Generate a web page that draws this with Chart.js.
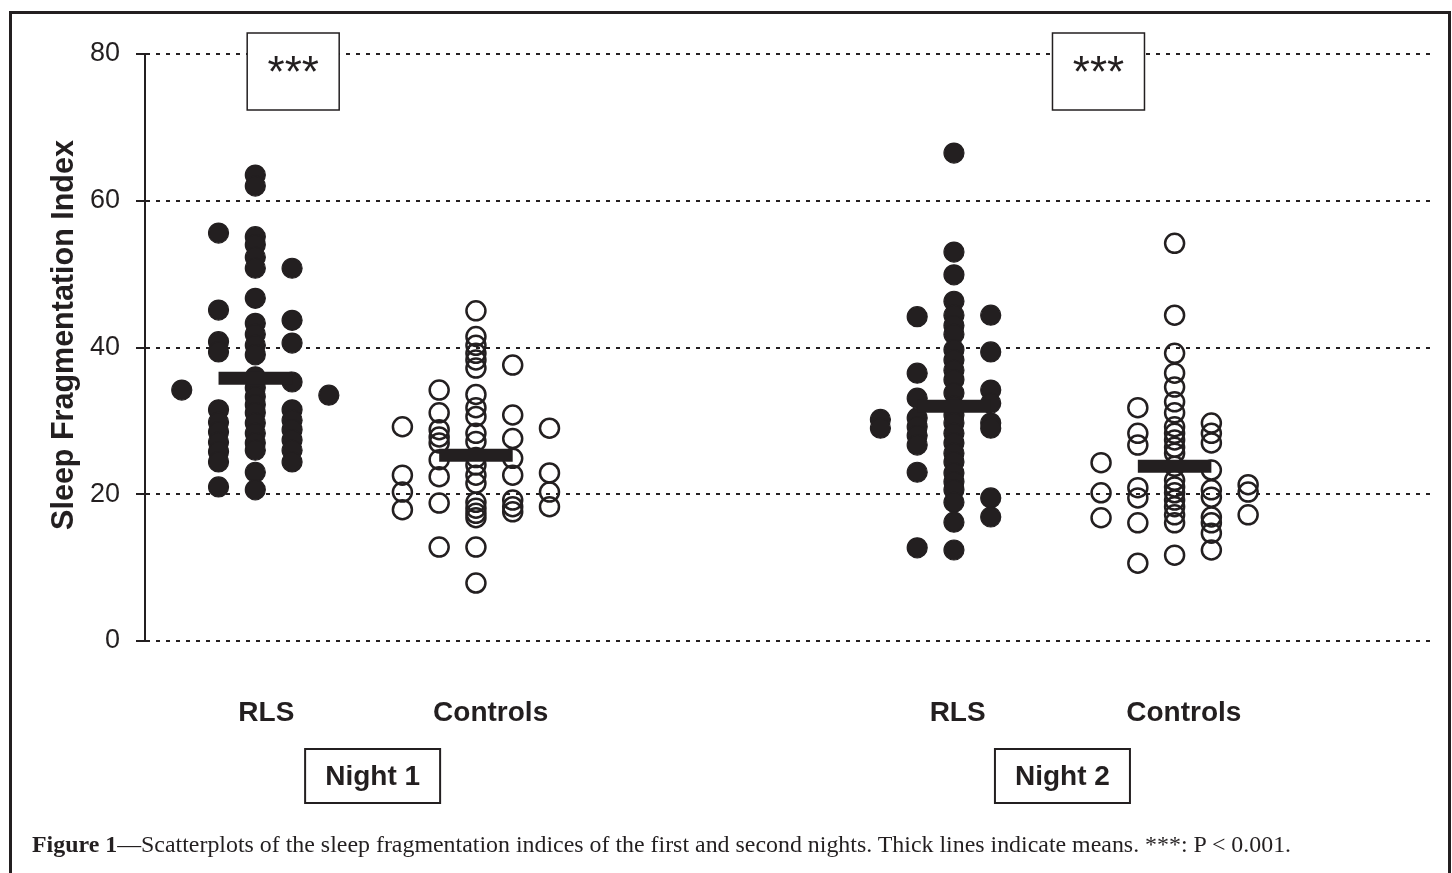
<!DOCTYPE html>
<html><head><meta charset="utf-8">
<script src="https://cdn.jsdelivr.net/npm/chart.js@4.4.1/dist/chart.umd.min.js"></script>
<style>
html,body{margin:0;padding:0;background:#fff;width:1452px;height:873px;overflow:hidden;}
#frame{position:absolute;left:9px;top:11px;width:1442px;height:900px;border:3px solid #231f20;border-bottom:none;box-sizing:border-box;}
#wrap{position:absolute;left:0;top:0;width:1452px;height:873px;}
#caption{position:absolute;left:32px;top:830px;line-height:28px;font-family:"Liberation Serif","Times New Roman",serif;font-size:23.9px;color:#231f20;white-space:nowrap;}
</style></head>
<body>
<div id="frame"></div>
<div id="wrap"><canvas id="c" width="1452" height="873"></canvas></div>
<div id="caption"><b>Figure 1</b>—Scatterplots of the sleep fragmentation indices of the first and second nights. Thick lines indicate means. ***: P &lt; 0.001.</div>
<script>
// ---- data ----
const columnOffsets = [-2, -1, 0, 1, 2];
const groupCenters = [3, 9, 22, 28];
const groupLabels = ['RLS', 'Controls', 'RLS', 'Controls'];
const labelPositions = [3.3, 9.4, 22.1, 28.25];
const yTicks = [0, 20, 40, 60, 80];
const yTitle = 'Sleep Fragmentation Index';

const night1RLS = [
  [34.2],
  [55.6, 45.1, 40.8, 39.4, 31.5, 29.8, 28.5, 27.1, 25.8, 24.4, 21.0],
  [63.5, 62.0, 55.1, 54.0, 52.3, 50.8, 46.7, 43.3, 41.8, 40.3, 39.0, 36.0, 34.5, 33.3, 32.2, 31.1, 29.7, 28.3, 27.0, 26.0, 23.0, 20.6],
  [50.8, 43.7, 40.6, 35.3, 31.5, 30.1, 28.8, 27.4, 26.0, 24.4],
  [33.5]
];
const night1Controls = [
  [29.2, 22.6, 20.3, 17.9],
  [34.2, 31.1, 28.8, 27.8, 27.0, 24.7, 22.4, 18.8, 12.8],
  [45.0, 41.5, 40.3, 39.2, 38.3, 37.2, 33.6, 31.8, 30.6, 28.3, 27.2, 25.0, 24.0, 22.6, 21.5, 18.9, 18.1, 17.4, 16.8, 12.8, 7.9],
  [37.6, 30.8, 27.6, 24.9, 22.6, 19.2, 18.3, 17.6],
  [29.0, 22.9, 20.3, 18.3]
];
const night2RLS = [
  [30.2, 29.0],
  [44.2, 36.5, 33.1, 30.4, 29.2, 28.0, 26.7, 23.0, 12.7],
  [66.5, 53.0, 49.9, 46.3, 44.4, 43.0, 41.8, 39.7, 38.3, 36.9, 35.6, 33.8, 32.0, 30.8, 29.7, 28.3, 27.0, 25.6, 24.4, 22.9, 21.7, 20.6, 18.9, 16.2, 12.4],
  [44.4, 39.4, 34.2, 32.4, 29.7, 29.0, 19.5, 16.9],
  []
];
const night2Controls = [
  [24.3, 20.2, 16.8],
  [31.8, 28.3, 26.7, 20.9, 19.5, 16.1, 10.6],
  [54.2, 44.4, 39.2, 36.5, 34.6, 32.6, 31.1, 29.2, 28.3, 27.4, 26.4, 25.6, 23.8, 21.9, 21.0, 20.2, 19.2, 18.3, 17.2, 16.1, 11.7],
  [29.7, 28.3, 27.0, 23.3, 20.6, 19.6, 16.9, 16.1, 14.7, 12.4],
  [21.3, 20.3, 17.2]
];
const groupMeans = [35.8, 25.3, 32.0, 23.8];
const starBoxPositions = [4.03, 25.93];
const nightBoxPositions = [6.19, 24.95];
const nightLabels = ['Night 1', 'Night 2'];

// ---- build ----
const ink = '#231f20';
const sans = '"Liberation Sans", Arial, sans-serif';
function toPoints(cols, center) {
  const pts = [];
  cols.forEach((vals, i) => vals.forEach(v => pts.push({x: center + columnOffsets[i], y: v})));
  return pts;
}
function filled(cols, center) {
  return {type: 'scatter', data: toPoints(cols, center), pointRadius: 10, pointStyle: 'circle',
    backgroundColor: ink, borderColor: ink, borderWidth: 1.2, showLine: false, order: 2};
}
function hollow(cols, center) {
  return {type: 'scatter', data: toPoints(cols, center), pointRadius: 9.5, pointStyle: 'circle',
    backgroundColor: 'rgba(0,0,0,0)', borderColor: ink, borderWidth: 2.5, showLine: false, order: 2};
}
function meanLine(i) {
  const c = groupCenters[i];
  return {type: 'line', data: [{x: c - 1, y: groupMeans[i]}, {x: c + 1, y: groupMeans[i]}],
    borderColor: ink, borderWidth: 13, borderCapStyle: 'butt', pointRadius: 0, showLine: true, order: 1};
}

const annot = {
  id: 'annot',
  afterDraw(chart) {
    const {ctx, chartArea, scales: {x, y}} = chart;
    ctx.save();
    // y-axis title
    ctx.save();
    ctx.translate(65, 335);
    ctx.rotate(-Math.PI / 2);
    ctx.fillStyle = ink;
    ctx.font = 'bold 30.5px ' + sans;
    ctx.textAlign = 'center'; ctx.textBaseline = 'middle';
    ctx.fillText(yTitle, 0, 0);
    ctx.restore();
    // *** boxes
    starBoxPositions.forEach(p => {
      const cx = x.getPixelForValue(p);
      const top = chartArea.top - 21, bottom = chartArea.top + 56;
      ctx.fillStyle = '#fff';
      ctx.fillRect(cx - 46, top, 92, bottom - top);
      ctx.strokeStyle = ink; ctx.lineWidth = 1.5;
      ctx.strokeRect(cx - 46, top, 92, bottom - top);
      ctx.fillStyle = ink;
      ctx.font = '44px ' + sans;
      ctx.textAlign = 'center'; ctx.textBaseline = 'alphabetic';
      ctx.fillText('***', cx, chartArea.top + 33);
    });
    // Night boxes
    nightBoxPositions.forEach((p, i) => {
      const cx = x.getPixelForValue(p);
      const top = chartArea.bottom + 108;
      ctx.strokeStyle = ink; ctx.lineWidth = 2;
      ctx.strokeRect(cx - 67.5, top, 135, 54);
      ctx.fillStyle = ink;
      ctx.font = 'bold 28px ' + sans;
      ctx.textAlign = 'center'; ctx.textBaseline = 'alphabetic';
      ctx.fillText(nightLabels[i], cx, chartArea.bottom + 144);
    });
    ctx.restore();
  }
};

new Chart(document.getElementById('c'), {
  type: 'scatter',
  data: {datasets: [
    filled(night1RLS, groupCenters[0]),
    hollow(night1Controls, groupCenters[1]),
    filled(night2RLS, groupCenters[2]),
    hollow(night2Controls, groupCenters[3]),
    meanLine(0), meanLine(1), meanLine(2), meanLine(3)
  ]},
  options: {
    responsive: false, animation: false, devicePixelRatio: 1,
    layout: {padding: {top: 54, right: 20, left: 0, bottom: 0}},
    plugins: {legend: {display: false}, tooltip: {enabled: false}},
    scales: {
      x: {
        type: 'linear', min: 0, max: 35,
        border: {display: false},
        grid: {display: false, drawTicks: false},
        ticks: {autoSkip: false, maxRotation: 0, padding: 55, color: ink,
          font: {family: sans, size: 28, weight: 'bold'},
          callback: (v, i) => groupLabels[i]},
        afterBuildTicks(s) { s.ticks = labelPositions.map(v => ({value: v})); },
        afterFit(s) { s.height = 232; }
      },
      y: {
        min: 0, max: 80,
        border: {display: true, color: ink, width: 2, dash: [4, 6]},
        grid: {color: ink, lineWidth: 2, borderDash: [4, 6], tickColor: ink, tickWidth: 2, tickLength: 9, tickBorderDash: []},
        ticks: {stepSize: 20, padding: 16, color: ink, font: {family: sans, size: 27}},
        afterBuildTicks(s) { s.ticks = yTicks.map(v => ({value: v})); },
        title: {display: false},
        afterFit(s) { s.width = 145; }
      }
    }
  },
  plugins: [annot]
});
</script>
</body></html>
